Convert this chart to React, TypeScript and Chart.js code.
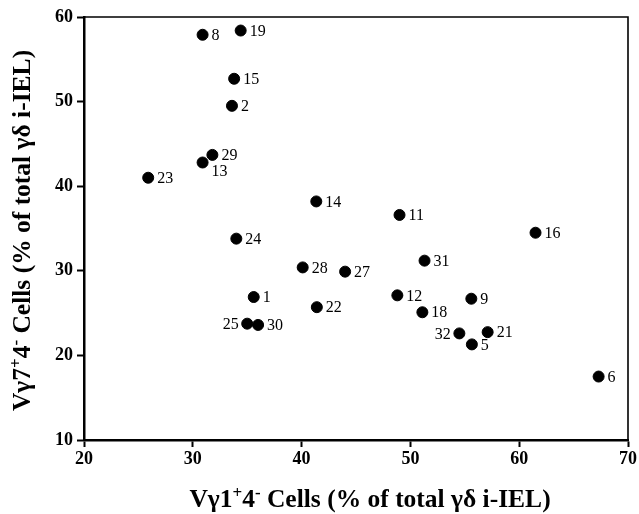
import React, { useEffect, useRef } from "react";
import { Chart, registerables } from "chart.js";

Chart.register(...registerables);

// Sample numbers
const pointLabels = ["1", "2", "5", "6", "8", "9", "11", "12", "13", "14", "15", "16", "18", "19", "21", "22", "23", "24", "25", "27", "28", "29", "30", "31", "32"];
// Vγ1+4- cells (% of total γδ i-IEL)
const xValues = [35.6, 33.6, 55.65, 67.3, 30.9, 55.6, 49.0, 48.8, 30.9, 41.35, 33.8, 61.5, 51.1, 34.4, 57.1, 41.4, 25.9, 34.0, 35.0, 44.0, 40.1, 31.8, 36.0, 51.3, 54.5];
// Vγ7+4- cells (% of total γδ i-IEL)
const yValues = [26.9, 49.5, 21.3, 17.5, 57.9, 26.7, 36.6, 27.1, 42.8, 38.2, 52.7, 34.5, 25.1, 58.4, 22.75, 25.7, 41.0, 33.8, 23.75, 29.9, 30.4, 43.7, 23.6, 31.2, 22.6];
// where each number label sits relative to its dot: r = right, l = left, br = below right
const labelPlacement = ["r", "r", "r", "r", "r", "r", "r", "r", "br", "r", "r", "r", "r", "r", "r", "r", "r", "r", "l", "r", "r", "r", "r", "r", "l"];

const xTicks = [20, 30, 40, 50, 60, 70];
const yTicks = [10, 20, 30, 40, 50, 60];

const SERIF = '"Liberation Serif", "Times New Roman", serif';

type Seg = { t: string; sup?: boolean };
const xTitle: Seg[] = [{ t: "Vγ1" }, { t: "+", sup: true }, { t: "4" }, { t: "-", sup: true }, { t: " Cells (% of total γδ i-IEL)" }];
const yTitle: Seg[] = [{ t: "Vγ7" }, { t: "+", sup: true }, { t: "4" }, { t: "-", sup: true }, { t: " Cells (% of total γδ i-IEL)" }];

function drawSegs(ctx: CanvasRenderingContext2D, segs: Seg[], size: number) {
  const main = `bold ${size}px ${SERIF}`;
  const sup = `bold ${Math.round(size * 0.68)}px ${SERIF}`;
  let w = 0;
  for (const s of segs) {
    ctx.font = s.sup ? sup : main;
    w += ctx.measureText(s.t).width;
  }
  let x = -w / 2;
  for (const s of segs) {
    ctx.font = s.sup ? sup : main;
    ctx.fillText(s.t, x, s.sup ? -size * 0.36 : 0);
    x += ctx.measureText(s.t).width;
  }
}

const decorPlugin = {
  id: "decor",
  afterDraw(chart: any) {
    const ctx: CanvasRenderingContext2D = chart.ctx;
    const a = chart.chartArea;
    ctx.save();
    // top and right frame
    ctx.strokeStyle = "#000";
    ctx.lineWidth = 1.6;
    ctx.beginPath();
    ctx.moveTo(a.left, a.top);
    ctx.lineTo(a.right, a.top);
    ctx.lineTo(a.right, a.bottom);
    ctx.stroke();

    // point labels
    const meta = chart.getDatasetMeta(0);
    ctx.fillStyle = "#000";
    ctx.font = `16px ${SERIF}`;
    ctx.textBaseline = "middle";
    meta.data.forEach((el: any, i: number) => {
      const p = labelPlacement[i];
      if (p === "l") {
        ctx.textAlign = "right";
        ctx.fillText(pointLabels[i], el.x - 8.5, el.y + 1);
      } else if (p === "br") {
        ctx.textAlign = "left";
        ctx.fillText(pointLabels[i], el.x + 9, el.y + 9);
      } else {
        ctx.textAlign = "left";
        ctx.fillText(pointLabels[i], el.x + 9, el.y + 1);
      }
    });

    // axis titles
    ctx.textAlign = "left";
    ctx.textBaseline = "alphabetic";
    ctx.save();
    ctx.translate(370, 507);
    drawSegs(ctx, xTitle, 25.5);
    ctx.restore();
    ctx.save();
    ctx.translate(30, (a.top + a.bottom) / 2 + 2);
    ctx.rotate(-Math.PI / 2);
    drawSegs(ctx, yTitle, 25.5);
    ctx.restore();
    ctx.restore();
  },
};

export default function App() {
  const ref = useRef<HTMLCanvasElement | null>(null);
  useEffect(() => {
    if (!ref.current) return;
    const chart = new Chart(ref.current, {
      type: "scatter",
      data: {
        datasets: [
          {
            data: xValues.map((x, i) => ({ x, y: yValues[i] })),
            backgroundColor: "#000",
            borderColor: "#000",
            pointRadius: 5.5,
            pointHoverRadius: 5.5,
          },
        ],
      },
      options: {
        animation: false,
        responsive: true,
        maintainAspectRatio: false,
        layout: { padding: { top: 17, right: 9, left: 0, bottom: 0 } },
        plugins: { legend: { display: false }, tooltip: { enabled: false }, title: { display: false } },
        scales: {
          x: {
            type: "linear",
            min: 20,
            max: 70,
            afterFit: (s: any) => {
              s.height = 74;
            },
            afterBuildTicks: (s: any) => {
              s.ticks = xTicks.map((v) => ({ value: v }));
            },
            ticks: {
              color: "#000",
              font: { family: SERIF, size: 18, weight: "bold" },
              padding: 2,
            },
            grid: { drawOnChartArea: false, drawTicks: true, tickLength: 7, tickColor: "#000", tickWidth: 2 },
            border: { display: true, color: "#000", width: 2.5 },
          },
          y: {
            type: "linear",
            min: 10,
            max: 60,
            afterFit: (s: any) => {
              s.width = 84;
            },
            afterBuildTicks: (s: any) => {
              s.ticks = yTicks.map((v) => ({ value: v }));
            },
            ticks: {
              color: "#000",
              font: { family: SERIF, size: 18, weight: "bold" },
              padding: 4,
            },
            grid: { drawOnChartArea: false, drawTicks: true, tickLength: 7, tickColor: "#000", tickWidth: 2 },
            border: { display: true, color: "#000", width: 2.5 },
          },
        },
      },
      plugins: [decorPlugin],
    } as any);
    return () => chart.destroy();
  }, []);
  return (
    <div style={{ position: "absolute", left: 0, top: 0, width: 639, height: 514, background: "#fff" }}>
      <canvas ref={ref} />
    </div>
  );
}
